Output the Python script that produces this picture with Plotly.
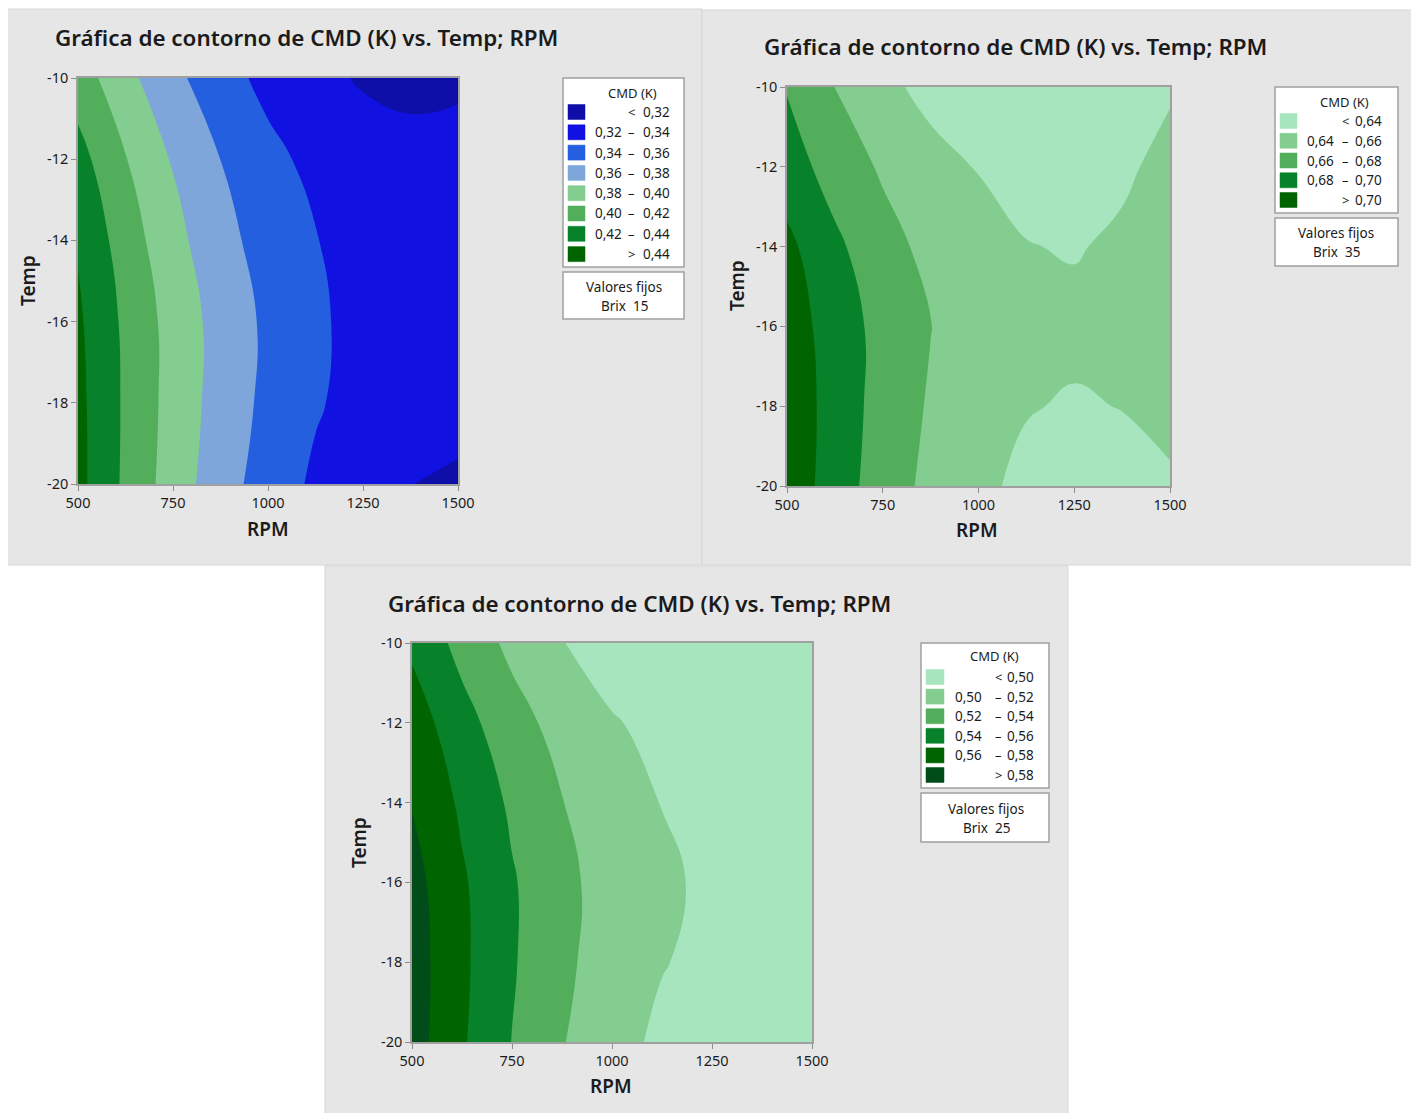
import plotly.graph_objects as go

W, H = 1419, 1113
PAGE_MARGIN = 8          # default <body> margin of the html page
FONT = "Noto Sans"
INK = "#1b1b1b"
FRAME = "#a0a0a0"
PANEL_BG = "#e6e6e6"

# ---------------- data ----------------
RPM = [500, 625, 750, 875, 1000, 1125, 1250, 1375, 1500]
TEMP = [-10, -12, -14, -16, -18, -20]

CMD_BRIX15 = [
    [0.4104, 0.3859, 0.3651, 0.3479, 0.3344, 0.3245, 0.3183, 0.3158, 0.3169],
    [0.4273, 0.4009, 0.3784, 0.3599, 0.3454, 0.3347, 0.3280, 0.3253, 0.3265],
    [0.4383, 0.4102, 0.3864, 0.3668, 0.3516, 0.3407, 0.3340, 0.3317, 0.3337],
    [0.4431, 0.4160, 0.3925, 0.3725, 0.3561, 0.3431, 0.3337, 0.3279, 0.3255],
    [0.4452, 0.4169, 0.3925, 0.3719, 0.3550, 0.3420, 0.3328, 0.3274, 0.3258],
    [0.4458, 0.4162, 0.3906, 0.3687, 0.3508, 0.3367, 0.3264, 0.3202, 0.3174],
]
CMD_BRIX35 = [
    [0.6788, 0.6598, 0.6451, 0.6341, 0.6271, 0.6241, 0.6249, 0.6297, 0.6385],
    [0.6893, 0.6716, 0.6574, 0.6466, 0.6392, 0.6352, 0.6347, 0.6376, 0.6440],
    [0.7048, 0.6840, 0.6673, 0.6544, 0.6455, 0.6405, 0.6390, 0.6424, 0.6493],
    [0.7110, 0.6904, 0.6735, 0.6604, 0.6510, 0.6454, 0.6435, 0.6454, 0.6510],
    [0.7142, 0.6913, 0.6726, 0.6579, 0.6474, 0.6409, 0.6386, 0.6404, 0.6463],
    [0.7137, 0.6900, 0.6703, 0.6548, 0.6435, 0.6363, 0.6332, 0.6343, 0.6370],
]
CMD_BRIX25 = [
    [0.5561, 0.5336, 0.5152, 0.5007, 0.4903, 0.4840, 0.4816, 0.4833, 0.4890],
    [0.5704, 0.5471, 0.5279, 0.5127, 0.5016, 0.4945, 0.4915, 0.4926, 0.4977],
    [0.5790, 0.5566, 0.5367, 0.5206, 0.5082, 0.4996, 0.4947, 0.4936, 0.4962],
    [0.5871, 0.5626, 0.5419, 0.5250, 0.5119, 0.5026, 0.4971, 0.4954, 0.4975],
    [0.5895, 0.5637, 0.5419, 0.5242, 0.5105, 0.5009, 0.4953, 0.4937, 0.4962],
    [0.5890, 0.5623, 0.5396, 0.5211, 0.5066, 0.4962, 0.4899, 0.4877, 0.4896],
]

LEVELS_BRIX15 = [0.32, 0.34, 0.36, 0.38, 0.40, 0.42, 0.44]
LEVELS_BRIX35 = [0.64, 0.66, 0.68, 0.70]
LEVELS_BRIX25 = [0.50, 0.52, 0.54, 0.56, 0.58]

COLORS_BRIX15 = ["#0e0ea8", "#1111e2", "#245fe0", "#7ea6da",
                 "#82cd8f", "#53ae5c", "#07822a", "#006400"]
COLORS_BRIX35 = ["#a6e5bd", "#82cd8f", "#53ae5c", "#07822a", "#006400"]
COLORS_BRIX25 = ["#a6e5bd", "#82cd8f", "#53ae5c", "#07822a", "#006400", "#004d19"]

BRIX = [15, 35, 25]
X_TICKS = [500, 750, 1000, 1250, 1500]
X_TICK_LABELS = ["500", "750", "1000", "1250", "1500"]
Y_TICKS = [-10, -12, -14, -16, -18, -20]
Y_TICK_LABELS = ["-10", "-12", "-14", "-16", "-18", "-20"]
TITLE = "Gráfica de contorno de CMD (K) vs. Temp; RPM"
X_TITLE = "RPM"
Y_TITLE = "Temp"
LEGEND_TITLE = "CMD (K)"
FIXED_TITLE = "Valores fijos"

# ---------------- layout geometry (pixels in the page) ----------------
PANELS = [
    dict(z=CMD_BRIX15, levels=LEVELS_BRIX15, colors=COLORS_BRIX15, brix=BRIX[0],
         bg=(6, 9, 702, 565), plot=(78, 78, 458, 484), title=(53, 37),
         xlab=(268, 529), ylab=(28, 281),
         leg=(563, 78, 684, 267), leg_title=(632, 93), sw=(568, 585), row0=112, dy=20.3,
         num_l=593, dash=631, num_r=672,
         fixed=(563, 272, 684, 319), fixed_x=624, fixed_y=(287, 306)),
    dict(z=CMD_BRIX35, levels=LEVELS_BRIX35, colors=COLORS_BRIX35, brix=BRIX[1],
         bg=(702, 10, 1415, 565), plot=(787, 87, 1170, 486), title=(762, 46),
         xlab=(977, 530), ylab=(737, 286),
         leg=(1275, 87, 1398, 213), leg_title=(1344, 102), sw=(1280, 1297), row0=121, dy=19.75,
         num_l=1305, dash=1345, num_r=1384,
         fixed=(1275, 218, 1398, 266), fixed_x=1336, fixed_y=(233, 252)),
    dict(z=CMD_BRIX25, levels=LEVELS_BRIX25, colors=COLORS_BRIX25, brix=BRIX[2],
         bg=(325, 566, 1068, 1125), plot=(412, 643, 812, 1042), title=(386, 603),
         xlab=(611, 1086), ylab=(359, 843),
         leg=(921, 643, 1049, 788), leg_title=(994, 656), sw=(926, 944), row0=677, dy=19.6,
         num_l=953, dash=998, num_r=1036,
         fixed=(921, 793, 1049, 842), fixed_x=986, fixed_y=(809, 828)),
]


def px(x):
    return (x - PAGE_MARGIN) / W


def py(y):
    return 1 - (y - PAGE_MARGIN) / H


def fmt(v):
    return f"{v:.2f}".replace(".", ",")


fig = go.Figure()
shapes = []
annotations = []
layout_axes = {}


def text(x, y, s, size=13, xanchor="center", angle=0, weight=None):
    f = dict(family=FONT, size=size, color=INK)
    if weight:
        f["weight"] = weight
    annotations.append(dict(x=px(x), y=py(y), xref="paper", yref="paper", text=s,
                            showarrow=False, xanchor=xanchor, yanchor="middle",
                            textangle=angle, font=f))


def rect(x0, y0, x1, y1, fill, line, width=1.0, layer="above"):
    shapes.append(dict(type="rect", xref="paper", yref="paper",
                       x0=px(x0), x1=px(x1), y0=py(y1), y1=py(y0),
                       fillcolor=fill, line=dict(color=line, width=width), layer=layer))


for i, p in enumerate(PANELS):
    sfx = "" if i == 0 else str(i + 1)
    lv = p["levels"]
    n = len(lv)
    step = round(lv[1] - lv[0], 6)
    cscale = [[k / n, c] for k, c in enumerate(p["colors"])]

    fig.add_trace(go.Contour(
        x=RPM, y=TEMP, z=p["z"], xaxis="x" + sfx, yaxis="y" + sfx,
        autocontour=False,
        contours=dict(start=lv[0], end=lv[-1], size=step, coloring="fill", showlines=False),
        colorscale=cscale, showscale=False,
        line=dict(width=0, smoothing=1.3), hoverinfo="skip"))

    x0, y0, x1, y1 = p["plot"]
    tickfont = dict(family=FONT, size=14.5, color=INK)
    common = dict(ticks="outside", ticklen=5, tickcolor="#8c8c8c", tickwidth=1,
                  showline=True, mirror=True, linecolor=FRAME, linewidth=1.5,
                  showgrid=False, zeroline=False, tickfont=tickfont, fixedrange=True)
    layout_axes["xaxis" + sfx] = dict(
        domain=[px(x0), px(x1)], range=[500, 1500], anchor="y" + sfx,
        tickvals=X_TICKS, ticktext=X_TICK_LABELS, **common)
    layout_axes["yaxis" + sfx] = dict(
        domain=[py(y1), py(y0)], range=[-20, -10], anchor="x" + sfx,
        tickvals=Y_TICKS, ticktext=Y_TICK_LABELS, **common)

    bx0, by0, bx1, by1 = p["bg"]
    rect(bx0, by0, bx1, by1, PANEL_BG, "#d6d6d6", 1.0, layer="below")

    tx, ty = p["title"]
    text(tx, ty, TITLE, size=22.4, xanchor="left", weight=600)
    text(*p["xlab"], X_TITLE, size=19, weight=600)
    text(*p["ylab"], Y_TITLE, size=19, angle=-90, weight=600)

    lx0, ly0, lx1, ly1 = p["leg"]
    rect(lx0, ly0, lx1, ly1, "white", FRAME, 1.5)
    text(*p["leg_title"], LEGEND_TITLE, size=13)
    s0, s1 = p["sw"]
    for k, c in enumerate(p["colors"]):
        yc = p["row0"] + k * p["dy"]
        rect(s0, yc - 7.5, s1, yc + 7.5, c, c, 0.5)
        if k == 0:
            text(p["dash"], yc, "<", size=13)
            text(p["num_r"], yc, fmt(lv[0]), size=13.5, xanchor="right")
        elif k == n:
            text(p["dash"], yc, ">", size=13)
            text(p["num_r"], yc, fmt(lv[-1]), size=13.5, xanchor="right")
        else:
            text(p["num_l"], yc, fmt(lv[k - 1]), size=13.5, xanchor="left")
            text(p["dash"], yc, "–", size=13)
            text(p["num_r"], yc, fmt(lv[k]), size=13.5, xanchor="right")

    fx0, fy0, fx1, fy1 = p["fixed"]
    rect(fx0, fy0, fx1, fy1, "white", FRAME, 1.5)
    text(p["fixed_x"], p["fixed_y"][0], FIXED_TITLE, size=13.5)
    text(p["fixed_x"], p["fixed_y"][1], f"Brix  {p['brix']}", size=13.5)

fig.update_layout(
    width=W, height=H, margin=dict(l=0, r=0, t=0, b=0, pad=0, autoexpand=False),
    paper_bgcolor="white", plot_bgcolor="rgba(0,0,0,0)",
    showlegend=False, shapes=shapes, annotations=annotations,
    font=dict(family=FONT, color=INK), **layout_axes)

fig.write_html("out.html")
